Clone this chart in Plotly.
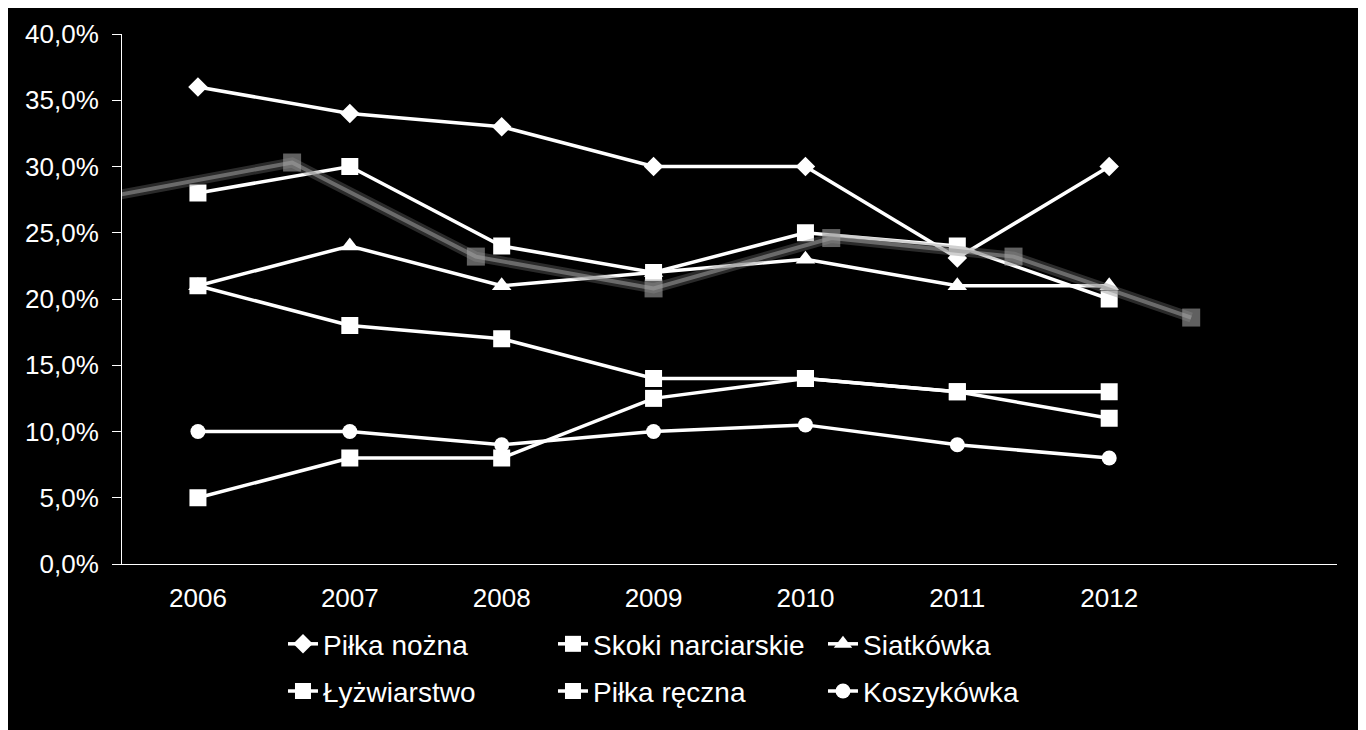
import plotly.graph_objects as go

years = ["2006", "2007", "2008", "2009", "2010", "2011", "2012"]

pilka_nozna = [36, 34, 33, 30, 30, 23.1, 30]
skoki = [28, 30, 24, 22, 25, 24, 20]
siatkowka = [21, 24, 21, 22, 23, 21, 21]
lyzwiarstwo = [21, 18, 17, 14, 14, 13, 11]
pilka_reczna = [5, 8, 8, 12.5, 14, 13, 13]
koszykowka = [10, 10, 9, 10, 10.5, 9, 8]

# blurred grey reflection seen behind the lines (position in category units)
shadow_x = [-0.55, 0.62, 1.83, 3.0, 4.17, 5.37, 6.54]
shadow_y = [27.8, 30.3, 23.2, 20.8, 24.6, 23.2, 18.6]

FONT = "Liberation Sans, Arial, sans-serif"
fig = go.Figure()

fig.add_trace(go.Scatter(
    x=shadow_x, y=shadow_y, xaxis="x2", mode="lines",
    line=dict(color="rgba(120,120,120,0.35)", width=10),
    showlegend=False, hoverinfo="skip", cliponaxis=False))
fig.add_trace(go.Scatter(
    x=shadow_x, y=shadow_y, xaxis="x2", mode="lines+markers",
    line=dict(color="rgba(150,150,150,0.6)", width=4),
    marker=dict(symbol="square", size=18, color="rgba(160,160,160,0.6)"),
    showlegend=False, hoverinfo="skip", cliponaxis=False))

series = [
    ("Piłka nożna", pilka_nozna, "diamond", 15, "legend"),
    ("Skoki narciarskie", skoki, "square", 17, "legend"),
    ("Siatkówka", siatkowka, "triangle-up", 17, "legend"),
    ("Łyżwiarstwo", lyzwiarstwo, "square", 17, "legend2"),
    ("Piłka ręczna", pilka_reczna, "square", 17, "legend2"),
    ("Koszykówka", koszykowka, "circle", 15, "legend2"),
]
for name, vals, sym, size, leg in series:
    fig.add_trace(go.Scatter(
        x=years, y=vals, name=name, mode="lines+markers",
        line=dict(color="white", width=3.5),
        marker=dict(symbol=sym, size=size, color="white", line=dict(width=0)),
        legend=leg, cliponaxis=False))

legend_common = dict(orientation="h", xanchor="left", yanchor="top",
                     font=dict(family=FONT, size=28, color="white"),
                     bgcolor="rgba(0,0,0,0)", entrywidth=225, entrywidthmode="pixels",
                     itemwidth=30, tracegroupgap=0)

fig.update_layout(
    width=1358, height=722,
    paper_bgcolor="black", plot_bgcolor="black",
    margin=dict(l=114, r=29, t=26, b=166),
    font=dict(family=FONT, size=26, color="white"),
    separators=", ",
    xaxis=dict(type="category", categoryarray=years, range=[-0.5, 7.5],
               showgrid=False, zeroline=False, showline=True, linecolor="white",
               linewidth=1, ticks="", ticklabelstandoff=11,
               tickfont=dict(family=FONT, size=26, color="white")),
    xaxis2=dict(overlaying="x", range=[-0.5, 7.5], visible=False),
    yaxis=dict(range=[0, 40], dtick=5, tickformat=".1f", ticksuffix="%",
               showgrid=False, zeroline=False, showline=True, linecolor="white",
               linewidth=1, ticks="outside", ticklen=9, tickcolor="white",
               ticklabelstandoff=8,
               tickfont=dict(family=FONT, size=26, color="white")),
    legend=dict(x=0.1325, y=-0.104, **legend_common),
    legend2=dict(x=0.1325, y=-0.193, **legend_common),
    showlegend=True,
)

fig.write_html("out.html")
